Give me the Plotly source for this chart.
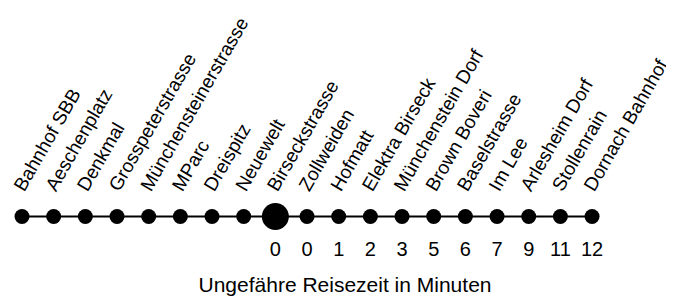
import plotly.graph_objects as go

stations = ["Bahnhof SBB", "Aeschenplatz", "Denkmal", "Grosspeterstrasse",
            "Münchensteinerstrasse", "MParc", "Dreispitz", "Neuewelt",
            "Birseckstrasse", "Zollweiden", "Hofmatt", "Elektra Birseck",
            "Münchenstein Dorf", "Brown Boveri", "Baselstrasse", "Im Lee",
            "Arlesheim Dorf", "Stollenrain", "Dornach Bahnhof"]
times_stations = ["Birseckstrasse", "Zollweiden", "Hofmatt", "Elektra Birseck",
                  "Münchenstein Dorf", "Brown Boveri", "Baselstrasse", "Im Lee",
                  "Arlesheim Dorf", "Stollenrain", "Dornach Bahnhof"]
times = [0, 0, 1, 2, 3, 5, 6, 7, 9, 11, 12]
highlight = "Birseckstrasse"

idx = list(range(len(stations)))
sizes = [27 if s == highlight else 15 for s in stations]
time_pos = [stations.index(s) for s in times_stations]

FONT = "Liberation Sans, Arial, Helvetica, sans-serif"
xr = [-0.442, 20.84]
shift = 6 / 31.67
xr2 = [xr[0] + shift, xr[1] + shift]

fig = go.Figure()
fig.add_trace(go.Scatter(x=idx, y=[0] * len(idx), mode="lines+markers",
                         line=dict(color="#000000", width=2),
                         marker=dict(color="#000000", size=sizes, opacity=1,
                                     line=dict(width=0, color="#000000")),
                         opacity=1, xaxis="x", yaxis="y", hoverinfo="skip"))
fig.add_trace(go.Scatter(x=idx, y=[0] * len(idx), mode="markers",
                         marker=dict(opacity=0), xaxis="x2", yaxis="y",
                         hoverinfo="skip"))

fig.update_layout(
    width=674, height=299,
    margin=dict(l=0, r=0, t=194, b=76),
    paper_bgcolor="white", plot_bgcolor="white",
    showlegend=False,
    font=dict(family=FONT, color="black", size=19),
    xaxis=dict(range=xr, tickvals=time_pos, ticktext=[str(t) for t in times],
               showgrid=False, zeroline=False, showline=False, ticks="",
               ticklabelstandoff=4,
               tickfont=dict(size=20, color="black"), automargin=False,
               title=dict(text="Ungefähre Reisezeit in Minuten",
                          font=dict(size=21, color="black"), standoff=18)),
    xaxis2=dict(range=xr2, overlaying="x", side="top", tickvals=idx,
                ticktext=stations, tickangle=-60, showgrid=False,
                zeroline=False, showline=False, ticks="",
                tickfont=dict(size=19, color="black"), automargin=False),
    yaxis=dict(range=[-1, 1], visible=False, fixedrange=True),
)

fig.write_html("out.html")
